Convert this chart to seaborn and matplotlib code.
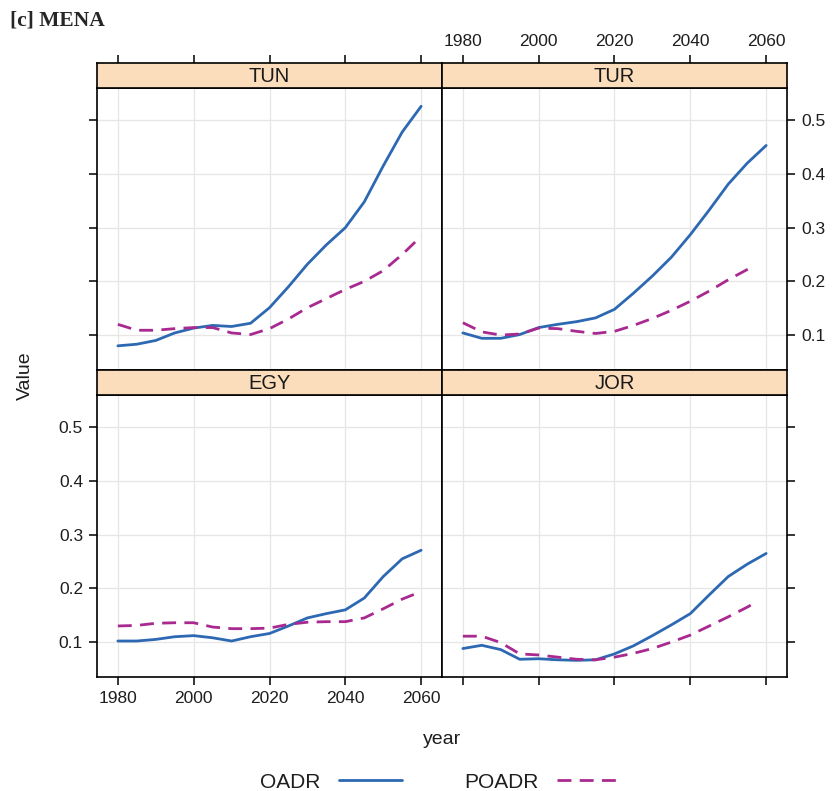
import matplotlib
matplotlib.use("Agg")
import matplotlib.pyplot as plt
import seaborn as sns
import pandas as pd
from matplotlib.lines import Line2D

# ---------------- data ----------------
years = [1980, 1985, 1990, 1995, 2000, 2005, 2010, 2015, 2020,
         2025, 2030, 2035, 2040, 2045, 2050, 2055, 2060]
years_short = [1980, 1985, 1990, 1995, 2000, 2005, 2010, 2015, 2020,
               2025, 2030, 2035, 2040, 2045, 2050, 2055, 2057]

tun_oadr = [0.080, 0.083, 0.090, 0.104, 0.113, 0.118, 0.116, 0.122, 0.151,
            0.190, 0.232, 0.268, 0.300, 0.348, 0.415, 0.478, 0.526]
tun_poadr = [0.120, 0.109, 0.109, 0.112, 0.114, 0.114, 0.104, 0.101, 0.112,
             0.130, 0.151, 0.168, 0.185, 0.200, 0.220, 0.250, 0.284]

tur_oadr = [0.104, 0.094, 0.094, 0.101, 0.114, 0.120, 0.125, 0.132, 0.148,
            0.178, 0.210, 0.245, 0.287, 0.333, 0.381, 0.420, 0.453]
tur_poadr = [0.123, 0.106, 0.100, 0.102, 0.113, 0.112, 0.107, 0.103, 0.107,
             0.118, 0.131, 0.146, 0.163, 0.182, 0.203, 0.222, 0.230]

egy_oadr = [0.102, 0.102, 0.105, 0.110, 0.112, 0.108, 0.102, 0.110, 0.116,
            0.130, 0.145, 0.153, 0.160, 0.182, 0.222, 0.255, 0.271]
egy_poadr = [0.130, 0.131, 0.135, 0.136, 0.136, 0.128, 0.125, 0.125, 0.126,
             0.133, 0.137, 0.138, 0.138, 0.145, 0.162, 0.180, 0.194]

jor_oadr = [0.088, 0.094, 0.086, 0.068, 0.069, 0.067, 0.066, 0.067, 0.078,
            0.093, 0.112, 0.132, 0.153, 0.188, 0.222, 0.245, 0.265]
jor_poadr = [0.111, 0.111, 0.099, 0.078, 0.076, 0.072, 0.068, 0.067, 0.072,
             0.079, 0.088, 0.100, 0.113, 0.130, 0.147, 0.165, 0.173]

countries = ["TUN", "TUR", "EGY", "JOR"]
series_names = ["OADR", "POADR"]
x_ticks = [1980, 2000, 2020, 2040, 2060]
y_ticks = [0.1, 0.2, 0.3, 0.4, 0.5]

panel_data = {
    "TUN": {"OADR": (years, tun_oadr), "POADR": (years, tun_poadr)},
    "TUR": {"OADR": (years, tur_oadr), "POADR": (years_short, tur_poadr)},
    "EGY": {"OADR": (years, egy_oadr), "POADR": (years, egy_poadr)},
    "JOR": {"OADR": (years, jor_oadr), "POADR": (years_short, jor_poadr)},
}

rows = []
for c in countries:
    for s in series_names:
        yrs, vals = panel_data[c][s]
        for yv, v in zip(yrs, vals):
            rows.append({"country": c, "series": s, "year": yv, "value": v})
df = pd.DataFrame(rows)

# ---------------- style ----------------
sns.set_style("white")
plt.rcParams["font.family"] = ["Liberation Sans", "DejaVu Sans"]

BLUE = "#2D68B2"
MAG = "#A8298F"
STRIP = "#FBDDBB"
palette = {"OADR": BLUE, "POADR": MAG}
DASH = (5.0, 3.0)
dashes = {"OADR": "", "POADR": DASH}
LW = 2.0

W, H = 833, 791
fig = plt.figure(figsize=(W / 100, H / 100), dpi=100)

def fx(px):
    return px / W

def fy(py):
    return 1 - py / H

col_left = {0: 97, 1: 442}
col_w = 345
row_plot = {0: (88, 370), 1: (395, 677)}
row_strip = {0: (63, 88), 1: (370, 395)}

xlim = (1974.5, 2065.5)
ylim = (0.035, 0.56)
TICK_FS = 12.5

layout = {"TUN": (0, 0), "TUR": (0, 1), "EGY": (1, 0), "JOR": (1, 1)}

for c in countries:
    r, k = layout[c]
    x0 = col_left[k]
    top, bot = row_plot[r]
    ax = fig.add_axes([fx(x0), fy(bot), fx(col_w), (bot - top) / H])
    st, sb = row_strip[r]
    sax = fig.add_axes([fx(x0), fy(sb), fx(col_w), (sb - st) / H])

    sub = df[df["country"] == c]
    sns.lineplot(data=sub, x="year", y="value", hue="series", style="series",
                 palette=palette, dashes=dashes, linewidth=LW, ax=ax,
                 legend=False, estimator=None, sort=True)
    for ln in ax.get_lines():
        ln.set_solid_joinstyle("round")
        ln.set_dash_joinstyle("round")

    ax.set_xlim(*xlim)
    ax.set_ylim(*ylim)
    ax.set_xticks(x_ticks)
    ax.set_yticks(y_ticks)
    ax.grid(True, color="#E6E6E6", linewidth=0.9)
    ax.set_axisbelow(True)
    ax.set_xlabel("")
    ax.set_ylabel("")
    for sp in ax.spines.values():
        sp.set_color("black")
        sp.set_linewidth(1.2)

    # strip
    sax.set_facecolor(STRIP)
    sax.set_xlim(*xlim)
    sax.set_ylim(0, 1)
    sax.set_yticks([])
    for sp in sax.spines.values():
        sp.set_color("black")
        sp.set_linewidth(1.2)
    sax.text(0.5, 0.45, c, transform=sax.transAxes, ha="center", va="center",
             fontsize=14.5, color="#1a1a1a")

    tick_kw = dict(direction="out", length=6, width=1.1, color="black",
                   labelsize=TICK_FS, labelcolor="#1e1e1e", pad=4)

    # x ticks
    if r == 0:
        ax.tick_params(axis="x", bottom=False, top=False,
                       labelbottom=False, labeltop=False)
        sax.set_xticks(x_ticks)
        sax.tick_params(axis="x", bottom=False, labelbottom=False, top=True,
                        labeltop=(k == 1), **tick_kw)
    else:
        sax.set_xticks([])
        ax.tick_params(axis="x", bottom=True, top=False, labelbottom=(k == 0),
                       labeltop=False, **tick_kw)

    # y ticks
    if k == 0:
        ax.tick_params(axis="y", left=True, right=False, labelleft=(r == 1),
                       labelright=False, **tick_kw)
    else:
        ax.tick_params(axis="y", left=False, right=True, labelleft=False,
                       labelright=(r == 0), **tick_kw)
    ax.yaxis.set_major_formatter(matplotlib.ticker.FormatStrFormatter("%g"))

# axis labels
fig.text(fx(442), fy(740), "year", ha="center", va="center", fontsize=14,
         color="#1e1e1e")
fig.text(fx(25), fy(376), "Value", ha="center", va="center", fontsize=14,
         rotation=90, color="#1e1e1e")

# title
fig.text(fx(10), fy(20), "[c] MENA", ha="left", va="center", fontsize=15.5,
         fontweight="bold", family=["Liberation Serif", "DejaVu Serif"])

# legend
handles = [Line2D([0], [0], color=BLUE, lw=LW),
           Line2D([0], [0], color=MAG, lw=LW, dashes=DASH)]
fig.legend(handles, series_names, loc="center", ncol=2, markerfirst=False,
           bbox_to_anchor=(fx(440), fy(782)), frameon=False, fontsize=15,
           handlelength=3.0, handletextpad=0.9, columnspacing=3.0,
           labelcolor="#1e1e1e")

fig.savefig("out.png", dpi=100)
